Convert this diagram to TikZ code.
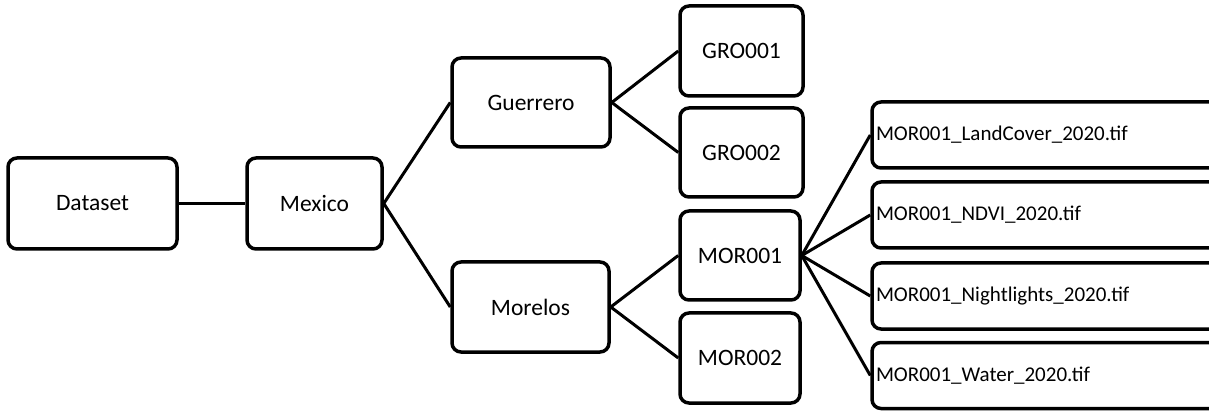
\documentclass[tikz,border=0pt]{standalone}
\usepackage{fontspec}
\setmainfont{Carlito}
\begin{document}
\begin{tikzpicture}[x=1pt,y=-1pt,
  box/.style={draw=black, line width=3.5pt, rounded corners=9pt, fill=white,
    font=\fontsize{23.5}{26}\selectfont, inner sep=0pt},
  filebox/.style={draw=black, line width=3.5pt, rounded corners=9pt, fill=white,
    font=\fontsize{21}{24}\selectfont, minimum width=370pt, minimum height=66pt,
    text width=362pt, align=left, inner xsep=4pt, inner ysep=0pt},
  link/.style={draw=black, line width=3pt}]
\clip (0,0) rectangle (1209,411);
\fill[white] (0,0) rectangle (1209,411);

% tree levels
\node[box, minimum width=169pt, minimum height=91pt] (dataset) at (92.5,203.5) {Dataset};
\node[box, minimum width=135pt, minimum height=91pt] (mexico) at (314.5,203.5) {Mexico};
\node[box, minimum width=158pt, minimum height=89pt] (guerrero) at (531,102.5) {Guerrero};
\node[box, minimum width=157pt, minimum height=90pt] (morelos) at (530.5,307) {Morelos};
\node[box, minimum width=123pt, minimum height=90pt] (gro1) at (741.5,51) {GRO001};
\node[box, minimum width=123pt, minimum height=89pt] (gro2) at (741.5,152.5) {GRO002};
\node[box, minimum width=120pt, minimum height=89pt] (mor1) at (740,255.5) {MOR001};
\node[box, minimum width=120pt, minimum height=90pt] (mor2) at (740,358) {MOR002};

% raster files of MOR001
\node[filebox] (f1) at (1057,135) {MOR001\_LandCover\_2020.tif};
\node[filebox] (f2) at (1057,215) {MOR001\_NDVI\_2020.tif};
\node[filebox] (f3) at (1057,296) {MOR001\_Nightlights\_2020.tif};
\node[filebox] (f4) at (1057,375.5) {MOR001\_Water\_2020.tif};

% connectors
\draw[link] (dataset.east) -- (mexico.west);
\draw[link] (mexico.east) -- (guerrero.west);
\draw[link] (mexico.east) -- (morelos.west);
\draw[link] (guerrero.east) -- (gro1.west);
\draw[link] (guerrero.east) -- (gro2.west);
\draw[link] (morelos.east) -- (mor1.west);
\draw[link] (morelos.east) -- (mor2.west);
\foreach \f in {f1,f2,f3,f4}
  \draw[link] (mor1.east) -- (\f.west);
\end{tikzpicture}
\end{document}
